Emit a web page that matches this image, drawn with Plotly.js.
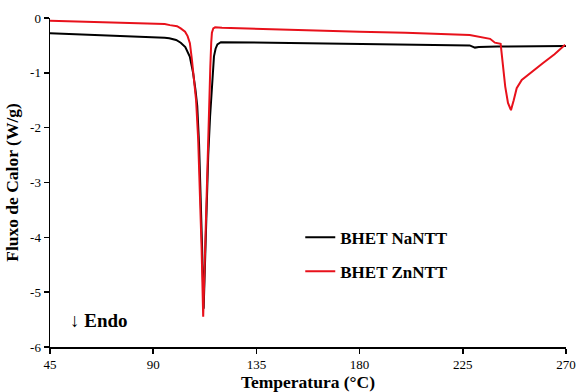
<!DOCTYPE html>
<html><head><meta charset="utf-8">
<script src="https://cdn.plot.ly/plotly-3.0.1.min.js"></script>
<style>html,body{margin:0;padding:0;background:#fff}</style>
</head><body><div id="chart" style="width:576px;height:392px"></div>
<script>
const seriesNames = ["BHET NaNTT", "BHET ZnNTT"];
const tempNa = [45, 60, 75, 90, 95, 97, 100, 102, 104, 106, 107.4, 108.4, 109.2, 110, 110.8, 111.4, 112, 112.6, 113.3, 114, 114.8, 115.5, 116, 116.5, 117.2, 118, 119.5, 135, 150, 165, 180, 200, 220, 228, 230.3, 232, 240, 250, 260, 270];
const fluxNa = [-0.28, -0.30, -0.32, -0.35, -0.36, -0.37, -0.40, -0.45, -0.53, -0.71, -1.0, -1.3, -1.6, -2.3, -3.3, -4.3, -5.3, -4.4, -3.4, -2.5, -1.8, -1.3, -0.95, -0.7, -0.56, -0.48, -0.44, -0.45, -0.46, -0.47, -0.48, -0.49, -0.50, -0.50, -0.54, -0.53, -0.52, -0.52, -0.52, -0.51];
const tempZn = [45, 60, 75, 90, 95, 97.3, 100.4, 102, 103.9, 105, 106, 106.9, 107.8, 108.7, 109.6, 110.4, 111.1, 111.8, 112.4, 113.1, 113.8, 114.4, 114.9, 115.3, 115.6, 116.2, 117, 120, 135, 150, 165, 180, 200, 220, 228, 236.9, 239, 241.5, 242.5, 243.5, 244.7, 246, 247.2, 248.5, 250.7, 255, 260, 265, 269.6];
const fluxZn = [-0.05, -0.07, -0.08, -0.10, -0.11, -0.13, -0.15, -0.19, -0.25, -0.33, -0.46, -0.77, -1.1, -1.5, -2.2, -3.1, -4.2, -5.45, -4.5, -3.3, -2.3, -1.5, -0.9, -0.45, -0.27, -0.19, -0.17, -0.18, -0.20, -0.22, -0.24, -0.25, -0.27, -0.29, -0.31, -0.38, -0.45, -0.47, -0.85, -1.25, -1.55, -1.68, -1.5, -1.28, -1.13, -0.98, -0.82, -0.66, -0.49];
const xTicks = [45, 90, 135, 180, 225, 270];
const yTicks = [0, -1, -2, -3, -4, -5, -6];

const serif = "Liberation Serif";
const traces = [
  {x: tempNa, y: fluxNa, name: seriesNames[0], mode: "lines", legendgroup: "a",
   line: {color: "#000000", width: 2}},
  {x: tempZn, y: fluxZn, name: seriesNames[1], mode: "lines", legendgroup: "b",
   line: {color: "#e8111b", width: 2}}
];
const layout = {
  width: 576, height: 392,
  margin: {l: 50, r: 10, t: 18, b: 45},
  paper_bgcolor: "#fff", plot_bgcolor: "#fff",
  font: {family: serif},
  showlegend: true,
  legend: {x: 0.485, y: 0.387, xanchor: "left", yanchor: "top",
    font: {family: serif, size: 17, color: "#000", weight: "bold"},
    tracegroupgap: 9, traceorder: "grouped", itemwidth: 30, bgcolor: "rgba(0,0,0,0)"},
  xaxis: {range: [45, 270], tickvals: xTicks, ticktext: xTicks.map(String),
    showgrid: false, zeroline: false, showline: true, linecolor: "#000", linewidth: 1.5,
    ticks: "outside", ticklen: 5, tickwidth: 1.5, tickcolor: "#000",
    tickfont: {family: serif, size: 13, color: "#000"},
    title: {text: "Temperatura (°C)", font: {family: serif, size: 17.5, color: "#000", weight: "bold"}, standoff: 5}},
  yaxis: {range: [-6, 0], tickvals: yTicks, ticktext: yTicks.map(String),
    showgrid: false, zeroline: false, showline: true, linecolor: "#000", linewidth: 1.5,
    ticks: "outside", ticklen: 5, tickwidth: 1.5, tickcolor: "#000",
    tickfont: {family: serif, size: 13, color: "#000"},
    title: {text: "Fluxo de Calor (W/g)", font: {family: serif, size: 17.5, color: "#000", weight: "bold"}, standoff: 7}},
  annotations: [{xref: "paper", yref: "paper", x: 0.035, y: 0.082, xanchor: "left", yanchor: "middle",
    text: "↓ <b>Endo</b>", showarrow: false, font: {family: serif, size: 19, color: "#000"}}]
};
Plotly.newPlot("chart", traces, layout, {displayModeBar: false, staticPlot: true});
</script></body></html>
